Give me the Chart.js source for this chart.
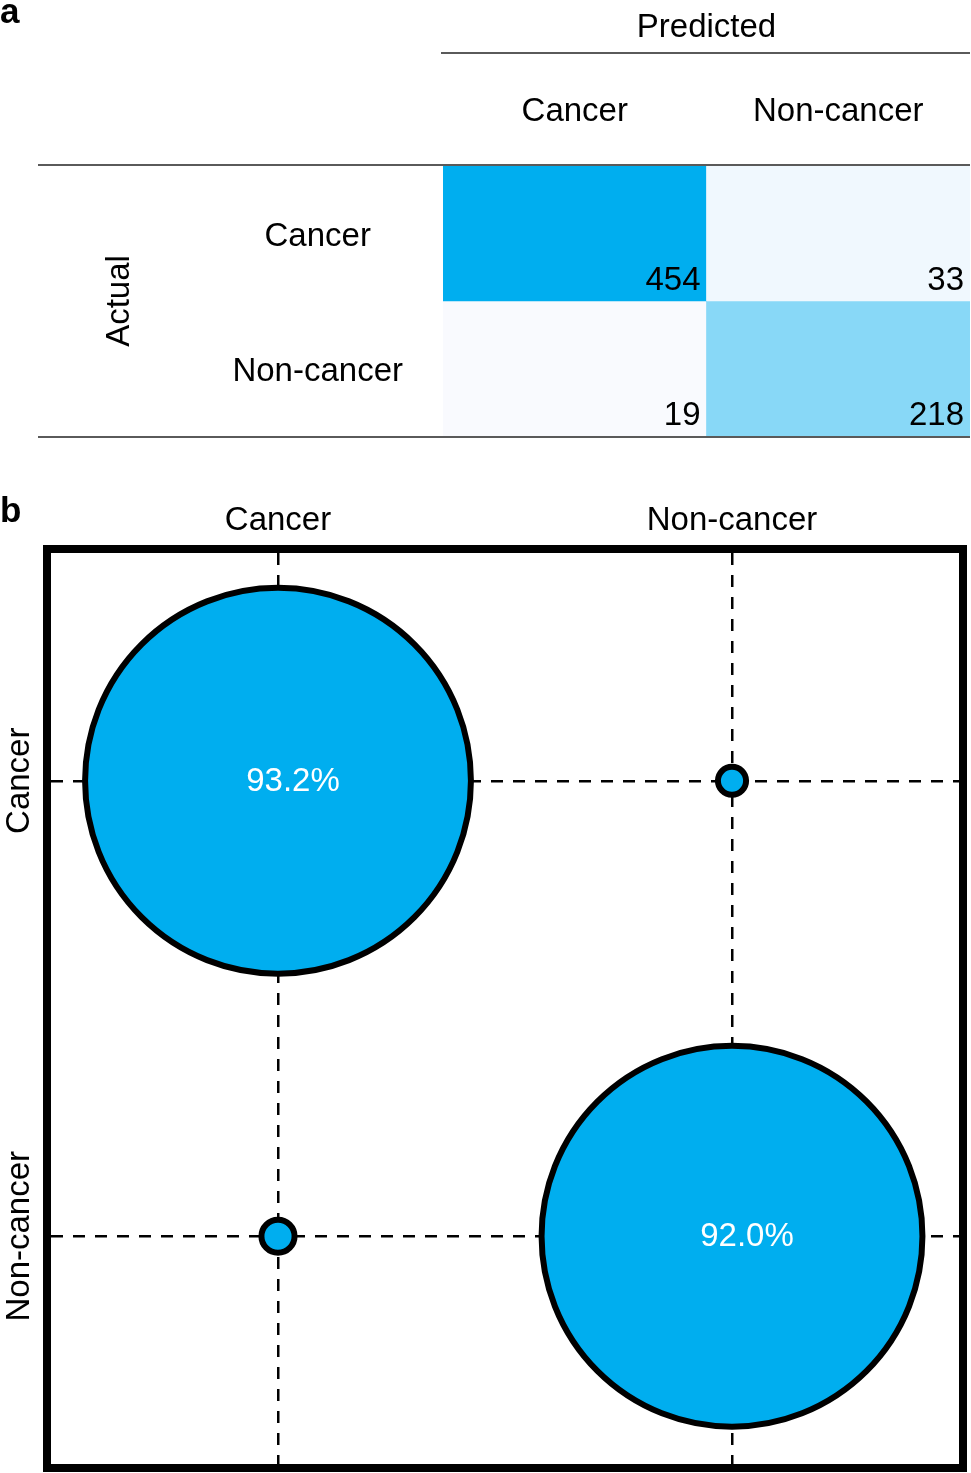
<!DOCTYPE html>
<html>
<head>
<meta charset="utf-8">
<script src="https://cdn.jsdelivr.net/npm/chart.js@4.4.1/dist/chart.umd.min.js"></script>
<style>
    body { margin: 0; background: #fff; }
    #wrap { position: relative; width: 971px; height: 1473px; overflow: hidden; }
    canvas { position: absolute; left: 0; display: block; }
    .tag { position: absolute; left: 0; font: bold 35px "Liberation Sans", Arial, sans-serif; line-height: 1; }
</style>
</head>
<body>
<div id="wrap">
    <canvas id="tableChart" width="971" height="445" style="top:0;width:971px;height:445px"></canvas>
    <canvas id="bubbleChart" width="971" height="1003" style="top:470px;width:971px;height:1003px"></canvas>
    <div class="tag" style="top:-7px">a</div>
    <div class="tag" style="top:492px">b</div>
</div>
<script>
const predicted = ['Cancer', 'Non-cancer'];
const actual = ['Cancer', 'Non-cancer'];
// rows = actual, columns = predicted
const counts = [[454, 33], [19, 218]];
const cellColors = [['#00AEEF', '#F0F8FE'], ['#F9FAFE', '#88D8F7']];
// row percentages shown in panel b
const rates = [[93.2, 6.8], [8.0, 92.0]];

const pxPerPercent = 2.07; // bubble radius scale

Chart.defaults.font.family = '"Liberation Sans", Arial, Helvetica, sans-serif';
Chart.defaults.font.size = 33;
Chart.defaults.color = '#000';

// panel a : confusion matrix
const tableRules = {
    id: 'tableRules',
    afterDraw(chart) {
        const {ctx, chartArea} = chart;
        ctx.save();
        ctx.strokeStyle = '#5a5a5a';
        ctx.lineWidth = 2;
        ctx.beginPath();
        ctx.moveTo(chartArea.left - 2, 53);
        ctx.lineTo(chartArea.right, 53);
        ctx.moveTo(38, chartArea.top - 1);
        ctx.lineTo(chartArea.right, chartArea.top - 1);
        ctx.moveTo(38, chartArea.bottom + 1);
        ctx.lineTo(chartArea.right, chartArea.bottom + 1);
        ctx.stroke();
        ctx.restore();
    },
    afterDatasetsDraw(chart) {
        const ctx = chart.ctx;
        ctx.save();
        ctx.font = '33px "Liberation Sans", Arial, sans-serif';
        ctx.fillStyle = '#000';
        ctx.textAlign = 'right';
        ctx.textBaseline = 'alphabetic';
        chart.data.datasets.forEach((ds, i) => {
            chart.getDatasetMeta(i).data.forEach((bar, j) => {
                const p = bar.getProps(['x', 'y', 'base', 'width'], true);
                const bottom = Math.max(p.y, p.base);
                ctx.fillText(String(counts[i][j]), p.x + p.width / 2 - 6, bottom - 11);
            });
        });
        ctx.restore();
    }
};

new Chart(document.getElementById('tableChart'), {
    type: 'bar',
    data: {
        labels: predicted,
        datasets: actual.map((row, i) => ({
            label: row,
            data: predicted.map(() => [i, i + 1]),
            backgroundColor: cellColors[i],
            borderWidth: 0,
            grouped: false,
            barPercentage: 1,
            categoryPercentage: 1
        }))
    },
    options: {
        responsive: false,
        devicePixelRatio: 1,
        animation: false,
        events: [],
        layout: { autoPadding: false, padding: { top: 8, left: 0, right: 1, bottom: 9 } },
        plugins: { legend: { display: false }, tooltip: { enabled: false } },
        scales: {
            x: {
                position: 'top',
                grid: { display: false, drawTicks: false },
                border: { display: false },
                ticks: { padding: 34 },
                title: { display: true, text: 'Predicted', padding: { top: 0, bottom: 0 } },
                afterFit: s => { s.height = 158; s.paddingLeft = 0; s.paddingRight = 0; }
            },
            y: {
                min: 0,
                max: 2,
                reverse: true,
                grid: { display: false, drawTicks: false },
                border: { display: false },
                afterBuildTicks: s => { s.ticks = actual.map((_, i) => ({ value: i + 0.5 })); },
                ticks: { padding: 40, labelOffset: 3, crossAlign: 'center', callback: (v, idx) => actual[idx] },
                title: { display: true, text: 'Actual', padding: { top: 100, bottom: 0 } },
                afterFit: s => { s.width = 443; s.paddingTop = 0; s.paddingBottom = 0; }
            }
        }
    },
    plugins: [tableRules]
});

// panel b : bubble plot of row percentages
const bubbleDecor = {
    id: 'bubbleDecor',
    afterDatasetsDraw(chart) {
        const ctx = chart.ctx;
        ctx.save();
        ctx.font = '33px "Liberation Sans", Arial, sans-serif';
        ctx.fillStyle = '#fff';
        ctx.textAlign = 'center';
        ctx.textBaseline = 'middle';
        chart.getDatasetMeta(0).data.forEach((el, k) => {
            const raw = chart.data.datasets[0].data[k];
            if (raw.x === raw.y) {
                ctx.fillText(raw.pct.toFixed(1) + '%', el.x + 15, el.y + 1);
            }
        });
        ctx.restore();
    },
    afterDraw(chart) {
        const {ctx, chartArea} = chart;
        ctx.save();
        ctx.strokeStyle = '#000';
        ctx.lineWidth = 8;
        ctx.strokeRect(chartArea.left - 4, chartArea.top - 4,
            chartArea.right - chartArea.left + 8, chartArea.bottom - chartArea.top + 8);
        ctx.restore();
    }
};

const bubblePoints = [];
actual.forEach((row, i) => {
    predicted.forEach((col, j) => {
        bubblePoints.push({ x: j, y: i, r: rates[i][j] * pxPerPercent, pct: rates[i][j] });
    });
});

const dashedGrid = { color: '#000', lineWidth: 2.5, drawTicks: false };
const dashedBorder = { display: false, dash: [12, 10] };

new Chart(document.getElementById('bubbleChart'), {
    type: 'bubble',
    data: {
        datasets: [{
            data: bubblePoints,
            backgroundColor: '#00AEEF',
            borderColor: '#000',
            borderWidth: 6
        }]
    },
    options: {
        responsive: false,
        devicePixelRatio: 1,
        animation: false,
        events: [],
        layout: { autoPadding: false, padding: { top: 0, left: 0, right: 12, bottom: 9 } },
        plugins: { legend: { display: false }, tooltip: { enabled: false } },
        scales: {
            x: {
                type: 'linear',
                position: 'top',
                min: -0.5,
                max: 1.5,
                afterBuildTicks: s => { s.ticks = predicted.map((_, j) => ({ value: j })); },
                ticks: { padding: 12, callback: (v, idx) => predicted[idx] },
                grid: dashedGrid,
                border: dashedBorder,
                afterFit: s => { s.height = 83; s.paddingLeft = 0; s.paddingRight = 0; }
            },
            y: {
                type: 'linear',
                min: -0.5,
                max: 1.5,
                reverse: true,
                afterBuildTicks: s => { s.ticks = actual.map((_, i) => ({ value: i })); },
                ticks: { padding: -54, minRotation: 90, maxRotation: 90, crossAlign: 'center',
                    callback: (v, idx) => actual[idx] },
                grid: dashedGrid,
                border: dashedBorder,
                afterFit: s => { s.width = 51; s.paddingTop = 0; s.paddingBottom = 0; }
            }
        }
    },
    plugins: [bubbleDecor]
});
</script>
</body>
</html>
